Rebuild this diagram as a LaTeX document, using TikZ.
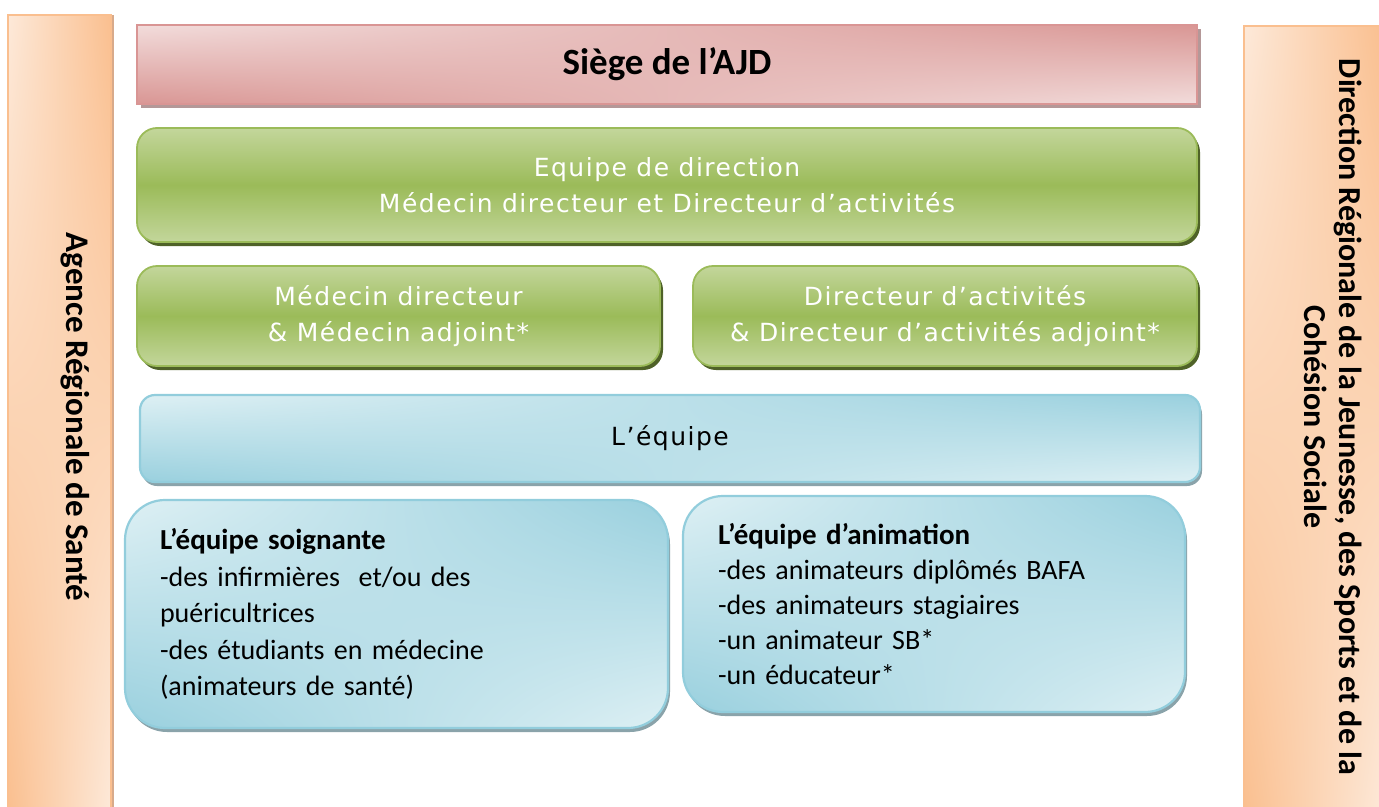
\documentclass[tikz,border=0pt]{standalone}
\usepackage{fontspec}
\setmainfont{Carlito}
\newfontfamily\tfont[LetterSpace=6]{DejaVu Sans}
\usetikzlibrary{shadows}

\newcommand\defbilin[7]{%
\pgfdeclarefunctionalshading{#1}{\pgfpoint{0bp}{0bp}}{\pgfpoint{100bp}{100bp}}{}{%
25 sub 50 div dup 0 lt {pop 0} if dup 1 gt {pop 1} if
exch 25 sub 50 div dup 0 lt {pop 0} if dup 1 gt {pop 1} if
2 copy mul 3 1 roll 1 exch sub exch 1 exch sub mul add
dup dup #5 #2 sub mul #2 add 3 1 roll #6 #3 sub mul #3 add exch #7 #4 sub mul #4 add}}

\defbilin{redsh}{0.949}{0.863}{0.859}{0.851}{0.588}{0.580}
\defbilin{orangesh}{0.992}{0.914}{0.851}{0.980}{0.749}{0.561}
\defbilin{bluesh}{0.870}{0.941}{0.957}{0.600}{0.815}{0.870}

\definecolor{redbd}{HTML}{D99594}
\definecolor{redshadow}{HTML}{B49898}
\definecolor{greenlt}{HTML}{C3D69B}
\definecolor{greendk}{HTML}{9BBB59}
\definecolor{greenshadow}{HTML}{4F6228}
\definecolor{bluebd}{HTML}{92CDDC}
\definecolor{blueshadow}{HTML}{8AA3AA}
\definecolor{orangebd}{HTML}{FABF8F}
\definecolor{orangeshadow}{HTML}{D8AA8A}

\tikzset{
  redbox/.style={shading=redsh, draw=redbd, line width=1.5pt,
    general shadow={fill=redshadow, shadow xshift=4pt, shadow yshift=-4pt}},
  greenbox/.style={top color=greenlt, bottom color=greenlt, middle color=greendk,
    draw=greendk, line width=1.8pt, rounded corners=20pt,
    general shadow={fill=greenshadow, shadow xshift=3pt, shadow yshift=-4pt},
    text=white, font=\tfont\fontsize{25}{36}\selectfont, align=center},
  bluebox/.style={shading=bluesh, draw=bluebd, line width=2.2pt,
    general shadow={fill=blueshadow, shadow xshift=2pt, shadow yshift=-4pt}},
  listbox/.style={bluebox, rounded corners=40pt, align=left, inner xsep=35pt, anchor=center},
  barbox/.style={shading=orangesh, draw=orangebd, line width=2pt,
    general shadow={fill=orangeshadow, shadow xshift=3pt, shadow yshift=0pt}},
  bartext/.style={rotate=-90, align=center, inner sep=0pt}
}
\newcommand\ttl[1]{{\bfseries\fontsize{29}{36}\selectfont #1}}

\begin{document}
\begin{tikzpicture}[x=1pt,y=-1pt]
\useasboundingbox (0,0) rectangle (1379,806);

% side bars
\node[barbox, minimum width=103pt, minimum height=800pt, inner sep=0pt] (arsbar) at (59.5,415) {};
\node[bartext, font=\bfseries\fontsize{33}{35}\selectfont] (ars) at (75,417) {Agence Régionale de Santé};
\node[barbox, minimum width=140pt, minimum height=790pt, inner sep=0pt] (drbar) at (1314,421) {};
\node[bartext, font=\bfseries\fontsize{32}{35}\selectfont] (drjscs) at (1333,417) {Direction Régionale de la Jeunesse, des Sports et de la\\Cohésion Sociale};

% siege
\node[redbox, minimum width=1060pt, minimum height=79pt, inner sep=0pt,
      font=\bfseries\fontsize{37}{40}\selectfont] (siege) at (667,64.5) {Siège de l’AJD};

% direction
\node[greenbox, minimum width=1060pt, minimum height=114pt, inner sep=0pt] (dir) at (667,185)
  {Equipe de direction\\Médecin directeur et Directeur d’activités};
\node[greenbox, minimum width=523pt, minimum height=100pt, inner sep=0pt] (med) at (398.5,316)
  {Médecin directeur\\\& Médecin adjoint*};
\node[greenbox, minimum width=504pt, minimum height=100pt, inner sep=0pt] (act) at (945,316)
  {Directeur d’activités\\\& Directeur d’activités adjoint*};

% equipe
\node[bluebox, rounded corners=15pt, minimum width=1060pt, minimum height=87pt, inner sep=0pt,
      font=\tfont\fontsize{25}{28}\selectfont] (equipe) at (670,438.5) {L’équipe};

\node[listbox, text width=473pt, minimum height=228pt, font=\fontsize{28}{36.5}\selectfont] (soin) at (396.5,614)
  {\ttl{L’équipe soignante}\\-des infirmières\ \ et/ou des\\puéricultrices\\-des étudiants en médecine\\(animateurs de santé)};
\node[listbox, text width=432pt, minimum height=216pt, font=\fontsize{28}{35}\selectfont] (anim) at (934,604)
  {\ttl{L’équipe d’animation}\\-des animateurs diplômés BAFA\\-des animateurs stagiaires\\-un animateur SB*\\-un éducateur*};
\end{tikzpicture}
\end{document}
